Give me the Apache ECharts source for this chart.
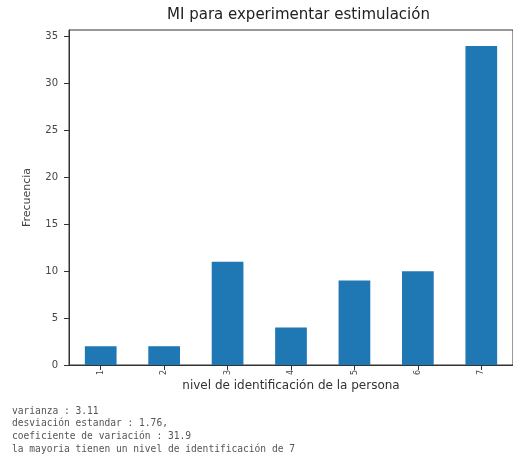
<!DOCTYPE html>
<html><head><meta charset="utf-8">
<script src="https://cdn.jsdelivr.net/npm/echarts@6/dist/echarts.min.js"></script>
<style>html,body{margin:0;padding:0;background:#fff}#c{width:513px;height:472px}</style>
</head><body><div id="c"></div>
<script>
var categories = ['1','2','3','4','5','6','7'];
var frecuencia = [2, 2, 11, 4, 9, 10, 34];
var yTicks = [0, 5, 10, 15, 20, 25, 30, 35];
var title = 'MI para experimentar estimulación';
var xName = 'nivel de identificación de la persona';
var yName = 'Frecuencia';
var notes = ['varianza : 3.11', 'desviación estandar : 1.76,', 'coeficiente de variación : 31.9', 'la mayoria tienen un nivel de identificación de 7'];

var chart = echarts.init(document.getElementById('c'), null, {renderer: 'canvas'});
var gl = 69, gt = 30, gw = 449, gh = 335;
var graphics = notes.map(function (t, i) {
  return {type: 'text', left: 12, top: 406 + i * 12.7,
    style: {text: t, font: '9.6px "DejaVu Sans Mono"', fill: '#555'}};
});
chart.setOption({
  animation: false,
  textStyle: {fontFamily: 'DejaVu Sans'},
  title: {text: title, left: gl + gw / 2, top: 3, textAlign: 'center',
    textStyle: {fontSize: 15, fontWeight: 'normal', color: '#222', fontFamily: 'DejaVu Sans'}},
  grid: {left: gl, top: gt, width: gw, height: gh, show: true, borderColor: '#333', borderWidth: 1, containLabel: false},
  xAxis: {type: 'category', data: categories,
    name: xName, nameLocation: 'middle', nameGap: 15, nameMoveOverlap: false,
    nameTextStyle: {fontSize: 12, color: '#333'},
    axisLine: {lineStyle: {color: '#333'}},
    axisTick: {show: true, alignWithLabel: true, inside: false, length: 5, lineStyle: {color: '#333'}},
    axisLabel: {rotate: 90, fontSize: 8, color: '#444', margin: 5}},
  yAxis: {type: 'value', min: 0, max: 35.7,
    name: yName, nameLocation: 'middle', nameGap: 36, nameRotate: 90, nameMoveOverlap: false,
    nameTextStyle: {fontSize: 11, color: '#444'},
    splitLine: {show: false},
    axisLine: {show: true, lineStyle: {color: '#333'}},
    axisTick: {show: true, length: 5, customValues: yTicks, lineStyle: {color: '#333'}},
    axisLabel: {customValues: yTicks, fontSize: 10, color: '#444', margin: 11}},
  series: [{type: 'bar', data: frecuencia, barWidth: '50%', itemStyle: {color: '#1f77b4'}}],
  graphic: graphics
});
</script></body></html>
